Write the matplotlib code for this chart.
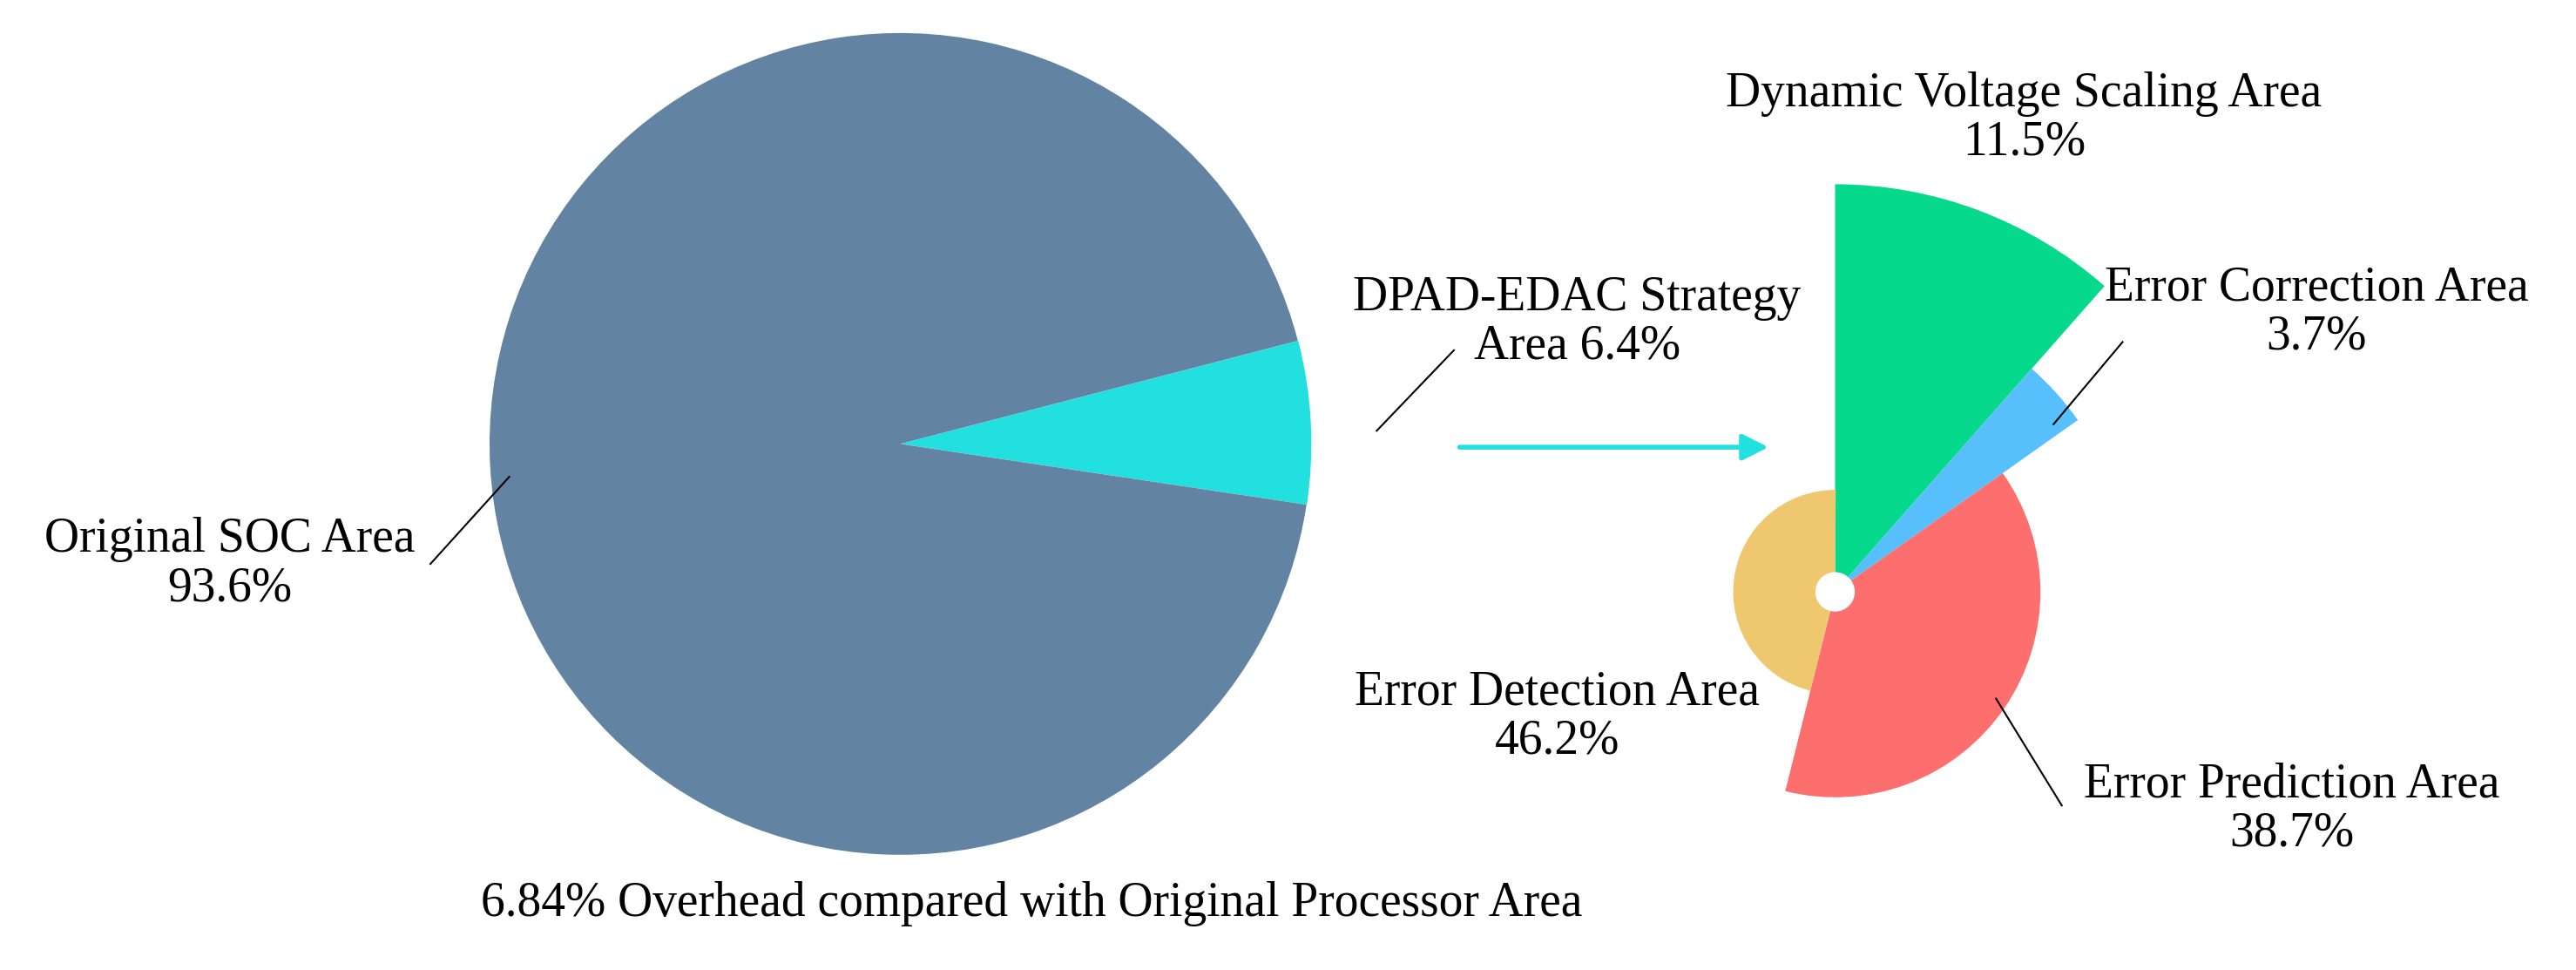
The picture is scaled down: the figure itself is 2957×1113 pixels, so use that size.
import numpy as np
import matplotlib.pyplot as plt
from matplotlib.patches import Wedge, Circle

# left pie
main_labels = ['DPAD-EDAC Strategy', 'Original SOC Area']
main_values = [6.4, 93.6]
main_colors = ['#22dfe0', '#6283a2']

# right rose
sub_labels = ['Dynamic Voltage Scaling Area', 'Error Correction Area',
              'Error Prediction Area', 'Error Detection Area']
sub_values = [11.5, 3.7, 38.7, 46.2]
sub_radius = [248, 181, 125, 62]
sub_colors = ['#06d98c', '#56bffc', '#fd6e6e', '#eec76f']

H = 590.0
def Y(y):
    return H - y

plt.rcParams['font.family'] = ['Liberation Serif', 'DejaVu Serif']
fig = plt.figure(figsize=(29.57, 11.13), dpi=100)
ax = fig.add_axes([0, 0, 1, 1])

ax.pie(main_values, colors=main_colors, startangle=-8.5, explode=[0.22, 0],
       center=(548, Y(270)), radius=250, wedgeprops=dict(linewidth=0))

cx, cy = 1117, Y(360)
theta = 90.0
for v, r, c in zip(sub_values, sub_radius, sub_colors):
    span = v / 100 * 360
    ax.add_patch(Wedge((cx, cy), r, theta - span, theta, facecolor=c, linewidth=0))
    theta -= span
ax.add_patch(Circle((cx, cy), 12, facecolor='white', linewidth=0))

ax.set_xlim(0, 1568)
ax.set_ylim(0, H)
ax.set_aspect('equal')
ax.axis('off')

fs = 40
kw = dict(ha='center', va='center', fontsize=fs, linespacing=1.1)
ax.text(140, Y(343), 'Original SOC Area\n93.6%', **kw)
ax.text(960, Y(196), 'DPAD-EDAC Strategy\nArea 6.4%', **kw)
ax.text(1232, Y(72), 'Dynamic Voltage Scaling Area\n11.5%', **kw)
ax.text(1410, Y(190), 'Error Correction Area\n3.7%', **kw)
ax.text(948, Y(436), 'Error Detection Area\n46.2%', **kw)
ax.text(1395, Y(492), 'Error Prediction Area\n38.7%', **kw)
ax.text(628, Y(550), '6.84% Overhead compared with Original Processor Area', **kw)

lk = dict(color='black', linewidth=1.5)
ax.plot([262, 310], [Y(343), Y(290)], **lk)
ax.plot([838, 885], [Y(262), Y(213)], **lk)
ax.plot([1250, 1292], [Y(258), Y(208)], **lk)
ax.plot([1215, 1255], [Y(425), Y(490)], **lk)

ax.annotate('', xy=(1078, Y(272)), xytext=(887, Y(272)),
            arrowprops=dict(arrowstyle='-|>', color='#22dfe0', lw=4,
                            mutation_scale=45))

fig.savefig('out.png', dpi=100)
